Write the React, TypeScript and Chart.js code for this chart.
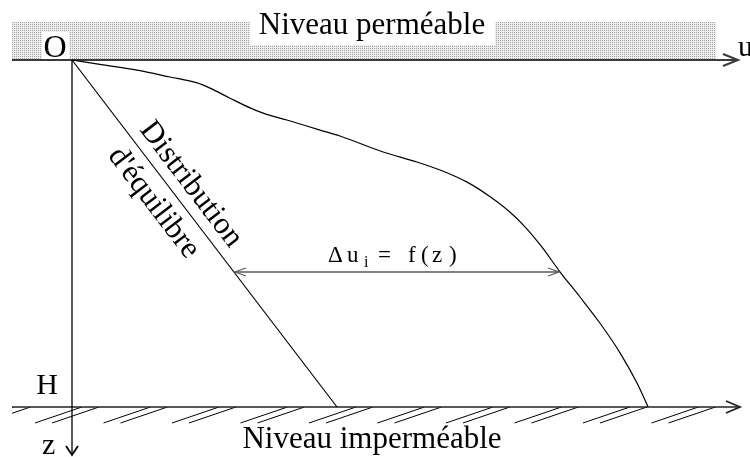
import { useEffect, useRef } from "react";
import { Chart, registerables } from "chart.js";

Chart.register(...registerables);

// Depth z is normalised by the layer thickness H (0 at the top, 1 at the base).
const H = 1;

// Equilibrium (hydrostatic) pore-pressure distribution: linear with depth.
const equilibriumDepth = [0, 1];
const equilibriumPressure = [0, 100];

// Transient pore-pressure profile u(z) during consolidation.
const transientDepth = [
  0, 0.014, 0.029, 0.049, 0.066, 0.081, 0.11, 0.138, 0.153, 0.173, 0.202,
  0.219, 0.265, 0.294, 0.317, 0.352, 0.392, 0.436, 0.478, 0.536, 0.611,
  0.683, 0.758, 0.844, 0.931, 1.0,
];
const transientPressure = [
  0, 11.7, 24.5, 37.0, 47.2, 52.1, 59.6, 67.2, 72.1, 81.1, 93.6, 101.1,
  117.4, 130.2, 138.9, 149.1, 157.4, 164.9, 170.6, 177.0, 184.2, 191.7,
  199.2, 206.8, 213.2, 217.4,
];

// Depth at which the excess pressure Δu_i is dimensioned.
const excessDepth = 0.611;

// Visible window of the (u, z) plane.
const U_MIN = -27.17;
const U_MAX = 255.85;
const Z_MIN = -0.1729;
const Z_MAX = 1.1441;

// Text drawn on the diagram.
const TOP_LABEL = "Niveau perméable";
const BOTTOM_LABEL = "Niveau imperméable";
const ORIGIN_LABEL = "O";
const U_LABEL = "u";
const Z_LABEL = "z";
const H_LABEL = "H";
const EQ_LABEL_1 = "Distribution";
const EQ_LABEL_2 = "d'équilibre";
// Δu_i = f(z), written token by token: [text, offset from arrow centre, size, baseline shift]
const EXCESS_TOKENS: [string, number, number, number][] = [
  ["Δ", -69, 23, 0],
  ["u", -50, 23, 0],
  ["i", -33, 16, 5],
  ["=", -19, 23, 0],
  ["f", 11, 23, 0],
  ["(", 24, 23, 0],
  ["z", 35, 23, 0],
  [")", 52, 23, 0],
];

const SERIF = "'Liberation Serif', 'Times New Roman', serif";

function interp(zs: number[], us: number[], z: number): number {
  for (let i = 1; i < zs.length; i++) {
    if (z <= zs[i]) {
      const t = (z - zs[i - 1]) / (zs[i] - zs[i - 1]);
      return us[i - 1] + t * (us[i] - us[i - 1]);
    }
  }
  return us[us.length - 1];
}

function stipple(ctx: CanvasRenderingContext2D) {
  const tile = document.createElement("canvas");
  tile.width = 2;
  tile.height = 2;
  const c = tile.getContext("2d")!;
  c.fillStyle = "#ececec";
  c.fillRect(0, 0, 2, 2);
  c.fillStyle = "#a6a6a6";
  c.fillRect(0, 0, 1, 1);
  return ctx.createPattern(tile, "repeat")!;
}

function chevron(
  ctx: CanvasRenderingContext2D,
  tx: number,
  ty: number,
  dx: number,
  dy: number,
  len: number,
  half: number
) {
  // dx, dy: unit direction of the arrow
  const bx = tx - dx * len;
  const by = ty - dy * len;
  const nx = -dy;
  const ny = dx;
  ctx.beginPath();
  ctx.moveTo(bx + nx * half, by + ny * half);
  ctx.lineTo(tx, ty);
  ctx.lineTo(bx - nx * half, by - ny * half);
  ctx.stroke();
}

const diagramPlugin = {
  id: "consolidationDiagram",
  beforeDatasetsDraw(chart: Chart) {
    const ctx = chart.ctx;
    const xs = chart.scales.x;
    const ys = chart.scales.y;
    const ox = xs.getPixelForValue(0);
    const oy = ys.getPixelForValue(0);
    const yb = ys.getPixelForValue(H);
    const left = ox - 60;
    const right = 716;

    ctx.save();
    // permeable boundary: stippled band above the u axis
    ctx.fillStyle = stipple(ctx);
    ctx.fillRect(left, oy - 38, right - left, 38);
    ctx.fillStyle = "#fff";
    ctx.fillRect(250, oy - 38, 245, 23);
    ctx.fillRect(ox - 30, oy - 28, 27, 28);

    // impermeable boundary hatching
    ctx.save();
    ctx.beginPath();
    ctx.rect(left, yb, right + 2 - left, 18);
    ctx.clip();
    ctx.strokeStyle = "#000";
    ctx.lineWidth = 1;
    for (let x0 = ox - 37 - 68.5; x0 < right; x0 += 68.5) {
      for (const off of [0, 17]) {
        ctx.beginPath();
        ctx.moveTo(x0 + off, yb + 16);
        ctx.lineTo(x0 + off + 47, yb);
        ctx.stroke();
      }
    }
    ctx.restore();

    // u axis
    ctx.strokeStyle = "#3a3a3a";
    ctx.lineWidth = 2;
    ctx.beginPath();
    ctx.moveTo(left, oy);
    ctx.lineTo(738, oy);
    ctx.stroke();
    ctx.lineWidth = 2;
    chevron(ctx, 738, oy, 1, 0, 15, 6);

    // base line of the layer
    ctx.strokeStyle = "#222";
    ctx.lineWidth = 1.6;
    ctx.beginPath();
    ctx.moveTo(left, yb);
    ctx.lineTo(740, yb);
    ctx.stroke();
    ctx.lineWidth = 1.8;
    chevron(ctx, 740, yb, 1, 0, 14, 6);

    // z axis
    ctx.strokeStyle = "#000";
    ctx.lineWidth = 1.3;
    ctx.beginPath();
    ctx.moveTo(ox, oy);
    ctx.lineTo(ox, 455);
    ctx.stroke();
    ctx.lineWidth = 1.8;
    chevron(ctx, ox, 455, 0, 1, 9, 6);
    ctx.restore();
  },
  afterDatasetsDraw(chart: Chart) {
    const ctx = chart.ctx;
    const xs = chart.scales.x;
    const ys = chart.scales.y;
    const ox = xs.getPixelForValue(0);
    const oy = ys.getPixelForValue(0);
    const yb = ys.getPixelForValue(H);

    ctx.save();
    ctx.fillStyle = "#000";
    ctx.textBaseline = "alphabetic";

    // boundary labels
    ctx.font = `31px ${SERIF}`;
    ctx.textAlign = "center";
    ctx.fillText(TOP_LABEL, 372, oy - 26);
    ctx.fillText(BOTTOM_LABEL, 372, yb + 41);

    // axis labels
    ctx.font = `32px ${SERIF}`;
    ctx.fillText(ORIGIN_LABEL, ox - 17, oy - 3);
    ctx.font = `30px ${SERIF}`;
    ctx.fillText(H_LABEL, ox - 25, yb - 13);
    ctx.textAlign = "left";
    ctx.fillText(U_LABEL, 738, oy - 4);
    ctx.fillText(Z_LABEL, ox - 30, yb + 47);

    // equilibrium line label, written along the line
    const ex = xs.getPixelForValue(equilibriumPressure[1]);
    const ey = ys.getPixelForValue(equilibriumDepth[1]);
    const ang = Math.atan2(ey - oy, ex - ox);
    const dx = Math.cos(ang);
    const dy = Math.sin(ang);
    const nx = dy;
    const ny = -dx;
    ctx.font = `31px ${SERIF}`;
    ctx.textAlign = "center";
    ctx.textBaseline = "middle";
    const put = (text: string, along: number, normal: number) => {
      ctx.save();
      ctx.translate(ox + dx * along + nx * normal, oy + dy * along + ny * normal);
      ctx.rotate(ang);
      ctx.fillText(text, 0, 0);
      ctx.restore();
    };
    put(EQ_LABEL_1, 171, 19);
    put(EQ_LABEL_2, 163, -22);

    // excess pore-pressure dimension Δu_i between the two distributions
    const ay = ys.getPixelForValue(excessDepth);
    const ax1 = xs.getPixelForValue(interp(equilibriumDepth, equilibriumPressure, excessDepth));
    const ax2 = xs.getPixelForValue(interp(transientDepth, transientPressure, excessDepth));
    ctx.strokeStyle = "#5a5a5a";
    ctx.lineWidth = 1.6;
    ctx.beginPath();
    ctx.moveTo(ax1 + 1, ay);
    ctx.lineTo(ax2 - 1, ay);
    ctx.stroke();
    ctx.lineWidth = 1.2;
    chevron(ctx, ax1 + 1, ay, -1, 0, 11, 4);
    chevron(ctx, ax2 - 1, ay, 1, 0, 11, 4);

    const mid = (ax1 + ax2) / 2;
    ctx.textBaseline = "alphabetic";
    ctx.textAlign = "left";
    ctx.fillStyle = "#000";
    for (const [t, off, size, shift] of EXCESS_TOKENS) {
      ctx.font = `${size}px ${SERIF}`;
      ctx.fillText(t, mid + off, ay - 10 + shift);
    }
    ctx.restore();
  },
};

export default function App() {
  const ref = useRef<HTMLCanvasElement>(null);

  useEffect(() => {
    const canvas = ref.current;
    if (!canvas) return;
    const chart = new Chart(canvas, {
      type: "scatter",
      data: {
        datasets: [
          {
            label: "équilibre",
            data: equilibriumDepth.map((z, i) => ({ x: equilibriumPressure[i], y: z })),
            showLine: true,
            borderColor: "#000",
            borderWidth: 1.2,
            pointRadius: 0,
            tension: 0,
          },
          {
            label: "u(z)",
            data: transientDepth.map((z, i) => ({ x: transientPressure[i], y: z })),
            showLine: true,
            borderColor: "#000",
            borderWidth: 1.2,
            pointRadius: 0,
            cubicInterpolationMode: "monotone",
          },
        ],
      },
      options: {
        animation: false,
        responsive: false,
        events: [],
        layout: { padding: 0 },
        plugins: { legend: { display: false }, tooltip: { enabled: false } },
        scales: {
          x: { type: "linear", display: false, min: U_MIN, max: U_MAX },
          y: { type: "linear", display: false, min: Z_MIN, max: Z_MAX, reverse: true },
        },
      },
      plugins: [diagramPlugin as any],
    });
    return () => chart.destroy();
  }, []);

  return (
    <div style={{ position: "fixed", left: 0, top: 0, width: 750, height: 457, background: "#fff" }}>
      <canvas ref={ref} width={750} height={457} style={{ display: "block" }} />
    </div>
  );
}
